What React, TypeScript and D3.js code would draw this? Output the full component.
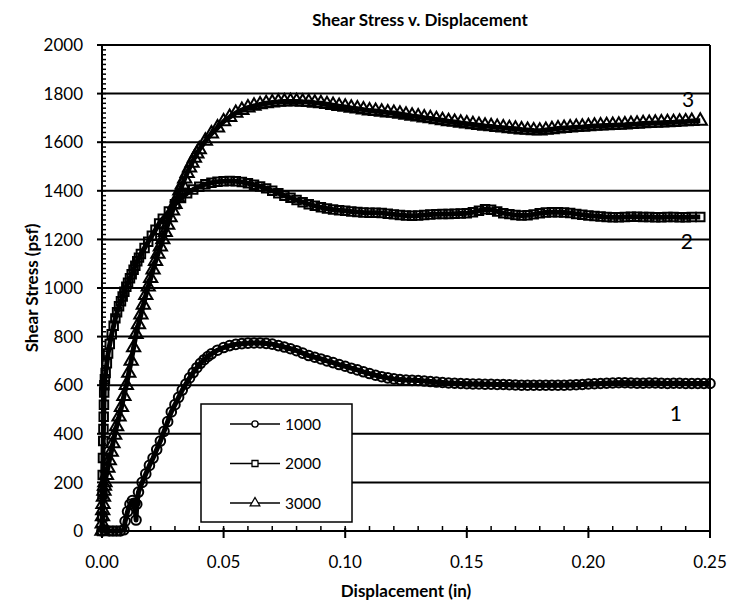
import { line, scaleLinear, symbol, symbolCircle, symbolSquare, symbolTriangle, range } from "d3";

type Pt = [number, number];

// displacement (in), shear stress (psf)
const load1000: Pt[] = [
  [0, 0], [0.001, 5], [0.003, 0], [0.0045, 0], [0.006, 0], [0.0075, 0], [0.009, 5],
  [0.0095, 40], [0.0105, 80], [0.0115, 110], [0.0125, 125], [0.0135, 115], [0.014, 45],
  [0.0143, 110], [0.015, 160], [0.0165, 200], [0.018, 235], [0.0195, 270], [0.021, 300],
  [0.0225, 335], [0.024, 370], [0.0255, 410], [0.027, 450], [0.0285, 490], [0.03, 520],
  [0.0315, 550], [0.033, 580], [0.0345, 605], [0.036, 630], [0.0375, 652], [0.039, 672],
  [0.0405, 690], [0.042, 705], [0.0435, 718], [0.045, 729], [0.0475, 744], [0.05, 755],
  [0.0525, 763], [0.055, 768], [0.0575, 771], [0.06, 773], [0.0625, 774], [0.065, 774],
  [0.0675, 772], [0.07, 769], [0.0725, 763], [0.075, 757], [0.0775, 750], [0.08, 742],
  [0.0825, 732], [0.085, 722], [0.0875, 715], [0.09, 708], [0.0925, 700], [0.095, 693],
  [0.0975, 685], [0.1, 678], [0.1025, 670], [0.105, 663], [0.1075, 655], [0.11, 648],
  [0.1125, 641], [0.115, 635], [0.1175, 630], [0.12, 626], [0.1225, 623], [0.125, 621],
  [0.1275, 620], [0.13, 619], [0.1325, 617], [0.135, 615], [0.1375, 613], [0.14, 611],
  [0.1425, 609], [0.145, 608], [0.1475, 607], [0.15, 606], [0.1525, 605], [0.155, 605],
  [0.1575, 604], [0.16, 604], [0.1625, 603], [0.165, 603], [0.1675, 602], [0.17, 601],
  [0.1725, 600], [0.175, 600], [0.1775, 600], [0.18, 600], [0.1825, 600], [0.185, 600],
  [0.1875, 600], [0.19, 600], [0.1925, 601], [0.195, 602], [0.1975, 603], [0.2, 605],
  [0.2025, 606], [0.205, 607], [0.2075, 608], [0.21, 609], [0.2125, 610], [0.215, 610],
  [0.2175, 609], [0.22, 608], [0.2225, 608], [0.225, 609], [0.2275, 609], [0.23, 608],
  [0.2325, 607], [0.235, 608], [0.2375, 608], [0.24, 607], [0.2425, 607], [0.245, 607],
  [0.2475, 607], [0.25, 607],
];

const load2000: Pt[] = [
  [0, 0], [0.0001, 60], [0.0002, 150], [0.0003, 230], [0.0004, 300], [0.0005, 370],
  [0.0006, 420], [0.0007, 470], [0.0008, 520], [0.0009, 570], [0.001, 600], [0.0012, 625],
  [0.0015, 650], [0.002, 690], [0.0025, 730], [0.0032, 770], [0.004, 810], [0.0048, 845],
  [0.0055, 875], [0.0062, 900], [0.007, 925], [0.0078, 945], [0.0085, 965], [0.0092, 985],
  [0.01, 1005], [0.0107, 1022], [0.0115, 1040], [0.0122, 1057], [0.013, 1075], [0.0137, 1092],
  [0.0145, 1110], [0.0152, 1125], [0.016, 1140], [0.0175, 1165],
  [0.019, 1190], [0.0205, 1215], [0.022, 1240], [0.0235, 1265], [0.025, 1285], [0.0275, 1315],
  [0.03, 1345], [0.0325, 1370], [0.035, 1390], [0.0375, 1405], [0.04, 1417], [0.0425, 1427],
  [0.045, 1433], [0.0475, 1437], [0.05, 1439], [0.0525, 1440], [0.055, 1439], [0.0575, 1436],
  [0.06, 1431], [0.0625, 1425], [0.065, 1418], [0.0675, 1410], [0.07, 1400], [0.0725, 1390],
  [0.075, 1380], [0.0775, 1371], [0.08, 1362], [0.0825, 1353], [0.085, 1345], [0.0875, 1338],
  [0.09, 1332], [0.0925, 1327], [0.095, 1323], [0.0975, 1320], [0.1, 1318], [0.1025, 1315],
  [0.105, 1313], [0.1075, 1311], [0.11, 1310], [0.1125, 1310], [0.115, 1309], [0.1175, 1306],
  [0.12, 1303], [0.1225, 1300], [0.125, 1298], [0.1275, 1297], [0.13, 1298], [0.1325, 1300],
  [0.135, 1302], [0.1375, 1304], [0.14, 1305], [0.1425, 1305], [0.145, 1306], [0.1475, 1307],
  [0.15, 1308], [0.1525, 1312], [0.155, 1318], [0.1575, 1324], [0.16, 1322], [0.1625, 1315],
  [0.165, 1308], [0.1675, 1304], [0.17, 1300], [0.1725, 1298], [0.175, 1299], [0.1775, 1303],
  [0.18, 1308], [0.1825, 1311], [0.185, 1312], [0.1875, 1312], [0.19, 1311], [0.1925, 1309],
  [0.195, 1305], [0.1975, 1301], [0.2, 1298], [0.2025, 1296], [0.205, 1294], [0.2075, 1292],
  [0.21, 1291], [0.2125, 1291], [0.215, 1292], [0.2175, 1293], [0.22, 1293], [0.2225, 1292],
  [0.225, 1292], [0.2275, 1291], [0.23, 1291], [0.2325, 1292], [0.235, 1292], [0.2375, 1291],
  [0.24, 1291], [0.2425, 1292], [0.246, 1292],
];

const load3000: Pt[] = [
  [0, 0], [0.0001, 30], [0.0002, 60], [0.0003, 85], [0.0004, 110], [0.0006, 140],
  [0.0008, 165], [0.001, 185], [0.0012, 200], [0.0018, 230], [0.0024, 260], [0.003, 290],
  [0.0038, 325], [0.0045, 360], [0.0052, 395], [0.006, 430], [0.007, 470],
  [0.008, 510], [0.009, 555], [0.01, 600], [0.011, 650], [0.012, 700], [0.013, 755],
  [0.014, 810], [0.015, 850], [0.016, 890], [0.017, 930], [0.018, 970], [0.019, 1005],
  [0.02, 1040], [0.021, 1075], [0.022, 1110], [0.023, 1140], [0.024, 1170], [0.025, 1200],
  [0.026, 1230], [0.027, 1260], [0.028, 1290], [0.029, 1318], [0.03, 1345],
  [0.031, 1372], [0.032, 1400], [0.033, 1425], [0.034, 1450], [0.035, 1473], [0.036, 1495],
  [0.037, 1515], [0.038, 1535], [0.039, 1553], [0.04, 1570], [0.0425, 1605],
  [0.045, 1635], [0.0475, 1660], [0.05, 1685], [0.0525, 1703], [0.055, 1720], [0.0575, 1732],
  [0.06, 1742], [0.0625, 1749], [0.065, 1755], [0.0675, 1760], [0.07, 1763], [0.0725, 1766],
  [0.075, 1767], [0.0775, 1768], [0.08, 1768], [0.0825, 1766], [0.085, 1765], [0.0875, 1762],
  [0.09, 1760], [0.0925, 1756], [0.095, 1752], [0.0975, 1748], [0.1, 1745], [0.1025, 1741],
  [0.105, 1738], [0.1075, 1734], [0.11, 1730], [0.1125, 1728], [0.115, 1725], [0.1175, 1722],
  [0.12, 1720], [0.1225, 1716], [0.125, 1712], [0.1275, 1708], [0.13, 1705], [0.1325, 1701],
  [0.135, 1698], [0.1375, 1694], [0.14, 1690], [0.1425, 1686], [0.145, 1683], [0.1475, 1679],
  [0.15, 1676], [0.1525, 1673], [0.155, 1670], [0.1575, 1667], [0.16, 1665], [0.1625, 1662],
  [0.165, 1660], [0.1675, 1657], [0.17, 1655], [0.1725, 1652], [0.175, 1650], [0.1775, 1648],
  [0.18, 1647], [0.1825, 1650], [0.185, 1653], [0.1875, 1656], [0.19, 1658], [0.1925, 1660],
  [0.195, 1662], [0.1975, 1663], [0.2, 1665], [0.2025, 1667], [0.205, 1668], [0.2075, 1669],
  [0.21, 1670], [0.2125, 1671], [0.215, 1672], [0.2175, 1674], [0.22, 1675], [0.2225, 1677],
  [0.225, 1678], [0.2275, 1679], [0.23, 1680], [0.2325, 1681], [0.235, 1682], [0.2375, 1684],
  [0.24, 1685], [0.2425, 1687], [0.246, 1688],
];

const seriesNames = ["1000", "2000", "3000"];
const curveLabels = ["1", "2", "3"];
const xTicks = [0, 0.05, 0.1, 0.15, 0.2, 0.25];
const yTicks = [0, 200, 400, 600, 800, 1000, 1200, 1400, 1600, 1800, 2000];

const FONT = "Lato, 'Open Sans', sans-serif";
const W = 744;
const H = 608;
const M = { left: 102, right: 34, top: 45, bottom: 77 };

export default function App() {
  const x = scaleLinear().domain([0, 0.25]).range([M.left, W - M.right]);
  const y = scaleLinear().domain([0, 2000]).range([H - M.bottom, M.top]);

  const path = line<Pt>().x((d) => x(d[0])).y((d) => y(d[1]));
  const series = [
    { name: seriesNames[0], data: load1000, shape: symbol(symbolCircle, 72)() },
    { name: seriesNames[1], data: load2000, shape: symbol(symbolSquare, 72)() },
    { name: seriesNames[2], data: load3000, shape: symbol(symbolTriangle, 76)() },
  ];
  const legendShapes = [
    symbol(symbolCircle, 30)(),
    symbol(symbolSquare, 36)(),
    symbol(symbolTriangle, 40)(),
  ];

  const minorX = range(0, 0.2501, 0.01);
  const minorY = range(0, 2001, 20);
  const x0 = x(0);
  const x1 = x(0.25);
  const yb = y(0);
  const yt = y(2000);

  // label anchors near curve ends
  const labelPos: Pt[] = [
    [0.2335, 485],
    [0.238, 1193],
    [0.2385, 1774],
  ];

  return (
    <svg width={W} height={H} style={{ position: "absolute", left: 0, top: 0, background: "#fff" }} fontFamily={FONT}>
      <text x={(x0 + x1) / 2 + 14} y={26} textAnchor="middle" fontSize={17} fontWeight={700}>
        Shear Stress v. Displacement
      </text>

      {yTicks.map((t) => (
        <line key={"g" + t} x1={x0} x2={x1} y1={y(t)} y2={y(t)} stroke="#000" strokeWidth={2} />
      ))}
      <line x1={x1} x2={x1} y1={yt} y2={yb} stroke="#000" strokeWidth={2} />

      {minorY.map((t) => (
        <line key={"my" + t} x1={x0} x2={x0 + 4} y1={y(t)} y2={y(t)} stroke="#000" strokeWidth={1.5} />
      ))}
      {yTicks.map((t) => (
        <g key={"yt" + t}>
          <line x1={x0 - 5} x2={x0} y1={y(t)} y2={y(t)} stroke="#000" strokeWidth={2} />
          <text x={x0 - 19} y={y(t)} dy="0.36em" textAnchor="end" fontSize={17}>
            {t}
          </text>
        </g>
      ))}
      {minorX.map((t) => (
        <line key={"mx" + t} x1={x(t)} x2={x(t)} y1={yb - 5} y2={yb} stroke="#000" strokeWidth={1.5} />
      ))}
      {xTicks.map((t) => (
        <g key={"xt" + t}>
          <line x1={x(t)} x2={x(t)} y1={yb - 3} y2={yb + 7} stroke="#000" strokeWidth={2} />
          <text x={x(t)} y={yb + 37} textAnchor="middle" fontSize={17}>
            {t.toFixed(2)}
          </text>
        </g>
      ))}
      <line x1={x0} x2={x0} y1={yt} y2={yb} stroke="#000" strokeWidth={2} />
      <line x1={x0 - 5} x2={x1} y1={yb} y2={yb} stroke="#000" strokeWidth={2} />

      {series.map((s) => (
        <g key={s.name}>
          <path d={path(s.data) ?? ""} fill="none" stroke="#000" strokeWidth={5} strokeLinejoin="round" />
          {s.data.map((d, i) => (
            <path
              key={i}
              d={s.shape ?? ""}
              transform={`translate(${x(d[0])},${y(d[1])})`}
              fill="none"
              stroke="#000"
              strokeWidth={2}
            />
          ))}
        </g>
      ))}

      <g>
        <rect x={201} y={404} width={151} height={118} fill="#fff" stroke="#000" strokeWidth={1.5} />
        {series.map((s, i) => {
          const ly = 424 + i * 39.5;
          return (
            <g key={"lg" + s.name}>
              <line x1={230} x2={280} y1={ly} y2={ly} stroke="#000" strokeWidth={1.5} />
              <path d={legendShapes[i] ?? ""} transform={`translate(255,${ly})`} fill="#fff" stroke="#000" strokeWidth={1.3} />
              <text x={285} y={ly} dy="0.36em" fontSize={15.5}>
                {s.name}
              </text>
            </g>
          );
        })}
      </g>

      {curveLabels.map((l, i) => (
        <text key={"cl" + l} x={x(labelPos[i][0])} y={y(labelPos[i][1])} fontSize={21} dy="0.36em">
          {l}
        </text>
      ))}

      <text x={(x0 + x1) / 2} y={597} textAnchor="middle" fontSize={17} fontWeight={700}>
        Displacement (in)
      </text>
      <text transform={`translate(38,${(yt + yb) / 2}) rotate(-90)`} textAnchor="middle" fontSize={17} fontWeight={700}>
        Shear Stress (psf)
      </text>
    </svg>
  );
}
